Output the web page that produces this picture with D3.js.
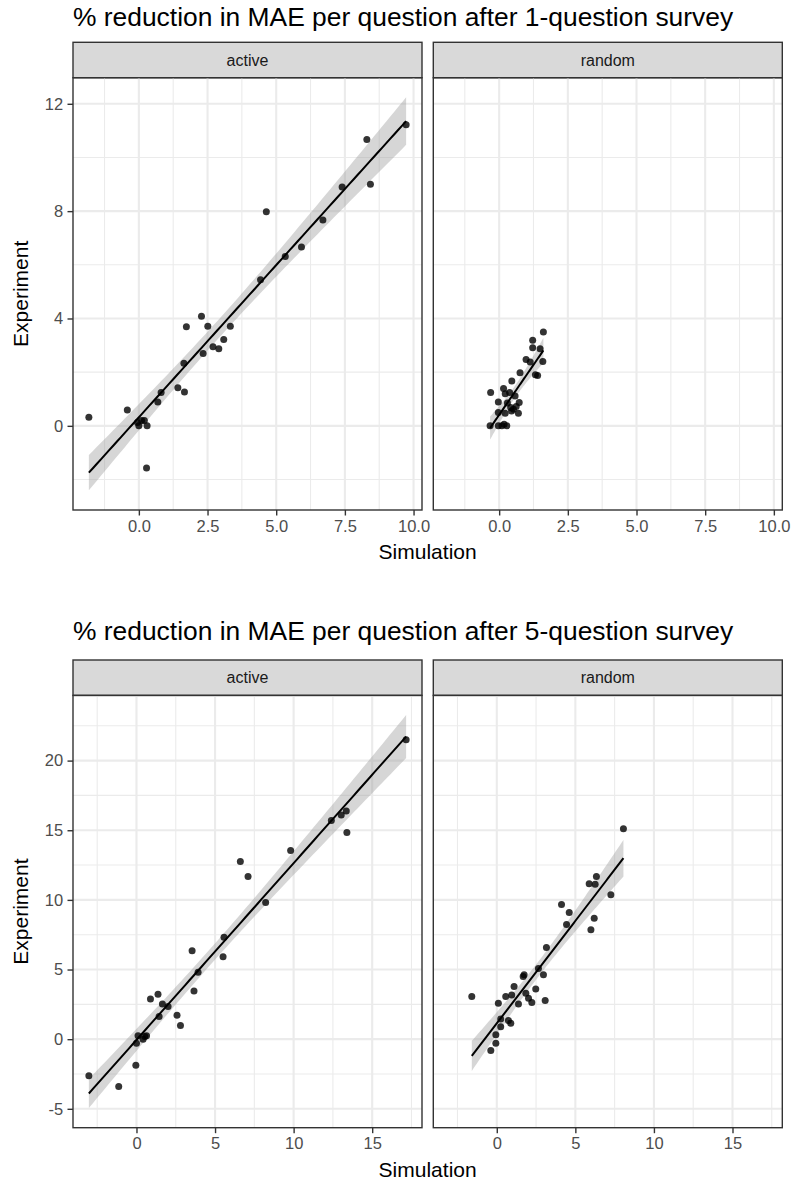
<!DOCTYPE html>
<html><head><meta charset="utf-8">
<script src="https://cdn.jsdelivr.net/npm/d3@7"></script>
<style>body{margin:0;background:#fff;} text{font-family:"Liberation Sans",Arial,Helvetica,sans-serif;}</style>
</head><body><svg id="chart" width="794" height="1184"></svg>
<script>
// ---------------- data ----------------
const facetNames = ["active", "random"];
const titles = [
  "% reduction in MAE per question after 1-question survey",
  "% reduction in MAE per question after 5-question survey"
];
const xAxisTitle = "Simulation";
const yAxisTitle = "Experiment";

// Chart 1 (1-question survey)
const s1ActiveSim = [-1.82,-0.42,0.00,-0.05,0.10,0.20,0.30,0.28,0.69,0.81,1.42,1.66,1.64,1.73,2.28,2.51,2.34,2.70,2.91,3.09,3.33,4.43,5.33,5.92,6.70,4.64,7.40,8.43,8.30,9.73];
const s1ActiveExp = [0.32,0.59,0.00,0.12,0.20,0.20,0.00,-1.57,0.89,1.24,1.42,1.26,2.33,3.69,4.08,3.71,2.70,2.95,2.87,3.22,3.71,5.44,6.31,6.66,7.67,7.98,8.90,9.00,10.67,11.22];
const s1RandomSim = [1.61,1.22,1.22,1.49,0.98,1.59,1.13,1.32,1.40,0.76,0.46,-0.31,0.16,0.22,0.38,0.58,-0.03,0.73,0.52,0.70,-0.03,0.22,0.42,0.62,-0.33,-0.03,0.18,0.28,0.10,0.30,0.45];
const s1RandomExp = [3.50,3.19,2.91,2.87,2.47,2.40,2.38,1.90,1.88,1.98,1.67,1.24,1.39,1.20,1.24,1.11,0.89,0.87,0.62,0.47,0.50,0.47,0.68,0.72,0.00,0.00,0.06,0.00,0.00,0.85,0.55];
const s1XTicks = [0, 2.5, 5, 7.5, 10];
const s1XTickLabels = ["0.0", "2.5", "5.0", "7.5", "10.0"];
const s1YTicks = [0, 4, 8, 12];
const s1YTickLabels = ["0", "4", "8", "12"];

// Chart 2 (5-question survey)
const s5ActiveSim = [17.16,13.35,13.03,12.40,13.39,9.81,6.61,7.10,8.22,5.57,5.51,3.54,3.92,3.66,0.89,1.37,1.65,2.01,1.44,2.58,2.80,0.10,0.00,0.53,0.64,0.42,-0.04,-3.03,-1.13];
const s5ActiveExp = [21.49,16.39,16.10,15.70,14.83,13.54,12.75,11.67,9.81,7.32,5.91,6.34,4.81,3.45,2.89,3.23,2.53,2.34,1.62,1.72,0.98,0.24,-0.29,0.19,0.24,0.00,-1.87,-2.63,-3.40];
const s5RandomSim = [8.06,6.34,5.88,6.26,7.26,4.12,4.61,4.44,6.20,5.99,3.16,2.65,2.97,1.74,1.68,1.10,2.48,0.57,0.95,1.85,2.02,2.23,1.38,3.08,0.10,-1.59,0.25,0.25,0.74,0.89,-0.06,-0.06,-0.38];
const s5RandomExp = [15.10,11.67,11.15,11.12,10.36,9.66,9.09,8.23,8.68,7.85,6.58,5.07,4.62,4.62,4.50,3.78,3.61,3.06,3.18,3.30,2.94,2.63,2.53,2.77,2.58,3.06,1.44,0.90,1.34,1.15,0.31,-0.29,-0.82];
const s5XTicks = [0, 5, 10, 15];
const s5XTickLabels = ["0", "5", "10", "15"];
const s5YTicks = [-5, 0, 5, 10, 15, 20];
const s5YTickLabels = ["-5", "0", "5", "10", "15", "20"];

// ---------------- stats (geom_smooth, method = lm, 95% CI) ----------------
function tq975(df) {
  const z = 1.959964, z3 = z ** 3, z5 = z ** 5, z7 = z ** 7;
  return z + (z3 + z) / (4 * df) + (5 * z5 + 16 * z3 + 3 * z) / (96 * df * df)
    + (3 * z7 + 19 * z5 + 17 * z3 - 15 * z) / (384 * df ** 3);
}
function lmFit(xs, ys) {
  const n = xs.length, mx = d3.mean(xs), my = d3.mean(ys);
  let sxx = 0, sxy = 0;
  for (let i = 0; i < n; i++) { sxx += (xs[i] - mx) ** 2; sxy += (xs[i] - mx) * (ys[i] - my); }
  const b = sxy / sxx, a = my - b * mx;
  let rss = 0;
  for (let i = 0; i < n; i++) rss += (ys[i] - a - b * xs[i]) ** 2;
  const s = Math.sqrt(rss / (n - 2)), t = tq975(n - 2);
  const [x0, x1] = d3.extent(xs);
  return d3.range(80).map(i => {
    const x = x0 + (x1 - x0) * i / 79, yh = a + b * x;
    const se = s * Math.sqrt(1 / n + (x - mx) ** 2 / sxx);
    return { x, y: yh, lo: yh - t * se, hi: yh + t * se };
  });
}

const charts = [
  { title: titles[0], facets: [[s1ActiveSim, s1ActiveExp], [s1RandomSim, s1RandomExp]],
    xTicks: s1XTicks, xLabels: s1XTickLabels, yTicks: s1YTicks, yLabels: s1YTickLabels },
  { title: titles[1], facets: [[s5ActiveSim, s5ActiveExp], [s5RandomSim, s5RandomExp]],
    xTicks: s5XTicks, xLabels: s5XTickLabels, yTicks: s5YTicks, yLabels: s5YTickLabels }
];

// ---------------- layout ----------------
const L = 73, panelW = 349, gap = 11.3, stripH = 35.4, panelH = 432.3;
const layout = [ { titleY: 26, stripTop: 42.3 }, { titleY: 640, stripTop: 660 } ];
const svg = d3.select("#chart");

function expand(ext) { const d = (ext[1] - ext[0]) * 0.05; return [ext[0] - d, ext[1] + d]; }
function minorOf(ticks, dom) {
  const step = ticks[1] - ticks[0];
  const out = [];
  for (let v = ticks[0] - step / 2; v <= dom[1]; v += step) if (v >= dom[0]) out.push(v);
  return out;
}

charts.forEach((ch, ci) => {
  const lay = layout[ci];
  const g = svg.append("g");
  const panelTop = lay.stripTop + stripH, panelBot = panelTop + panelH;
  const fits = ch.facets.map(f => lmFit(f[0], f[1]));
  const allX = ch.facets.flatMap(f => f[0]);
  const allY = ch.facets.flatMap(f => f[1]).concat(fits.flatMap(f => f.flatMap(p => [p.lo, p.hi])));
  const xDom = expand(d3.extent(allX)), yDom = expand(d3.extent(allY));
  const y = d3.scaleLinear().domain(yDom).range([panelBot, panelTop]);
  const yMinor = minorOf(ch.yTicks, yDom);

  g.append("text").attr("x", L).attr("y", lay.titleY).attr("font-size", 26.4).attr("fill", "#000").text(ch.title);

  ch.facets.forEach((f, fi) => {
    const px0 = L + fi * (panelW + gap);
    const x = d3.scaleLinear().domain(xDom).range([px0, px0 + panelW]);
    const xMinor = minorOf(ch.xTicks, xDom);
    const pg = g.append("g");
    // strip
    pg.append("rect").attr("x", px0).attr("y", lay.stripTop).attr("width", panelW).attr("height", stripH)
      .attr("fill", "#D9D9D9").attr("stroke", "#333333").attr("stroke-width", 1.4);
    pg.append("text").attr("x", px0 + panelW / 2).attr("y", lay.stripTop + stripH / 2).attr("dy", "0.35em")
      .attr("text-anchor", "middle").attr("font-size", 16).attr("fill", "#1A1A1A").text(facetNames[fi]);
    // grid
    pg.selectAll(".vmin").data(xMinor).join("line").attr("x1", d => x(d)).attr("x2", d => x(d))
      .attr("y1", panelTop).attr("y2", panelBot).attr("stroke", "#EBEBEB").attr("stroke-width", 1.1);
    pg.selectAll(".hmin").data(yMinor).join("line").attr("y1", d => y(d)).attr("y2", d => y(d))
      .attr("x1", px0).attr("x2", px0 + panelW).attr("stroke", "#EBEBEB").attr("stroke-width", 1.1);
    pg.selectAll(".vmaj").data(ch.xTicks).join("line").attr("x1", d => x(d)).attr("x2", d => x(d))
      .attr("y1", panelTop).attr("y2", panelBot).attr("stroke", "#EBEBEB").attr("stroke-width", 2.1);
    pg.selectAll(".hmaj").data(ch.yTicks).join("line").attr("y1", d => y(d)).attr("y2", d => y(d))
      .attr("x1", px0).attr("x2", px0 + panelW).attr("stroke", "#EBEBEB").attr("stroke-width", 2.1);
    // smooth
    const fit = fits[fi];
    pg.append("path").datum(fit).attr("fill", "#999999").attr("fill-opacity", 0.4)
      .attr("d", d3.area().x(d => x(d.x)).y0(d => y(d.lo)).y1(d => y(d.hi)));
    pg.append("path").datum(fit).attr("fill", "none").attr("stroke", "#000").attr("stroke-width", 2)
      .attr("d", d3.line().x(d => x(d.x)).y(d => y(d.y)));
    // points
    pg.selectAll("circle").data(f[0].map((v, i) => [v, f[1][i]])).join("circle")
      .attr("cx", d => x(d[0])).attr("cy", d => y(d[1])).attr("r", 3.5)
      .attr("fill", "#000").attr("fill-opacity", 0.8);
    // border
    pg.append("rect").attr("x", px0).attr("y", panelTop).attr("width", panelW).attr("height", panelH)
      .attr("fill", "none").attr("stroke", "#333333").attr("stroke-width", 1.4);
    // x axis
    const xa = pg.append("g").attr("transform", `translate(0,${panelBot})`)
      .call(d3.axisBottom(x).tickValues(ch.xTicks).tickFormat((d, i) => ch.xLabels[i])
        .tickSize(5.5).tickPadding(4.4).tickSizeOuter(0));
    xa.select(".domain").remove();
    xa.selectAll("line").attr("stroke", "#333333").attr("stroke-width", 1.4);
    xa.selectAll("text").attr("font-size", 16.5).attr("fill", "#4D4D4D").attr("font-family", "Liberation Sans, Arial, sans-serif");
  });

  // y axis
  const ya = g.append("g").attr("transform", `translate(${L},0)`)
    .call(d3.axisLeft(y).tickValues(ch.yTicks).tickFormat((d, i) => ch.yLabels[i])
      .tickSize(5.5).tickPadding(4.4).tickSizeOuter(0));
  ya.select(".domain").remove();
  ya.selectAll("line").attr("stroke", "#333333").attr("stroke-width", 1.4);
  ya.selectAll("text").attr("font-size", 16.5).attr("fill", "#4D4D4D").attr("font-family", "Liberation Sans, Arial, sans-serif");

  // axis titles
  const totalRight = L + 2 * panelW + gap;
  g.append("text").attr("x", (L + totalRight) / 2).attr("y", panelBot + 49).attr("text-anchor", "middle")
    .attr("font-size", 21).attr("fill", "#000").text(xAxisTitle);
  g.append("text").attr("transform", `translate(28,${(panelTop + panelBot) / 2}) rotate(-90)`)
    .attr("text-anchor", "middle").attr("font-size", 21).attr("fill", "#000").text(yAxisTitle);
});
</script>
</body></html>
